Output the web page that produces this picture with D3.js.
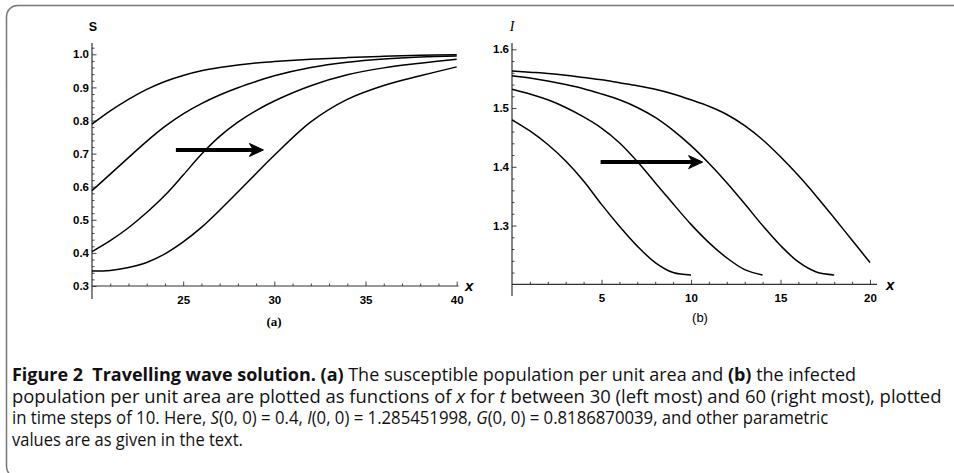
<!DOCTYPE html>
<html><head><meta charset="utf-8">
<script src="https://cdn.jsdelivr.net/npm/d3@7"></script>
<style>
html,body{margin:0;padding:0;background:#fff;}
svg{display:block;}
</style></head>
<body>
<svg id="fig" width="954" height="473"></svg>
<script>
// ---------- data ----------
// Panel (a): S versus x, t = 30, 40, 50, 60
const sX = [20,21,22,23,24,25,26,27,28,29,30,32,34,36,38,40];
const sT30 = [0.789,0.829,0.864,0.894,0.918,0.936,0.950,0.960,0.968,0.974,0.978,0.985,0.990,0.994,0.997,0.999];
const sT40 = [0.588,0.638,0.688,0.737,0.782,0.820,0.851,0.877,0.899,0.918,0.935,0.960,0.976,0.986,0.992,0.995];
const sT50 = [0.404,0.437,0.476,0.522,0.574,0.635,0.698,0.752,0.795,0.830,0.859,0.905,0.938,0.959,0.973,0.985];
const sT60 = [0.345,0.347,0.356,0.371,0.397,0.433,0.477,0.529,0.584,0.640,0.695,0.796,0.864,0.906,0.935,0.962];
// Panel (b): I versus x
const iX = [0,1,2,3,4,5,6,7,8,9,10,11,12,13,14,15,16,17,18,19,20];
const iT30 = [1.480,1.461,1.438,1.410,1.376,1.336,1.299,1.265,1.237,1.220,1.216];
const iT40 = [1.532,1.524,1.514,1.501,1.485,1.466,1.441,1.409,1.373,1.337,1.302,1.271,1.245,1.225,1.216];
const iT50 = [1.555,1.551,1.546,1.540,1.533,1.524,1.514,1.501,1.484,1.462,1.436,1.406,1.373,1.337,1.300,1.266,1.238,1.221,1.216];
const iT60 = [1.563,1.561,1.559,1.556,1.552,1.548,1.543,1.538,1.532,1.524,1.514,1.503,1.489,1.470,1.446,1.417,1.385,1.350,1.313,1.275,1.237];
// Tick values
const sXMajor = [25,30,35,40];
const sYMajor = [0.3,0.4,0.5,0.6,0.7,0.8,0.9,1.0];
const iXMajor = [5,10,15,20];
const iYMajor = [1.3,1.4,1.5,1.6];
// Arrows: [x0, x1, y]
const arrowS = [24.6, 29.4, 0.711];
const arrowI = [4.95, 10.65, 1.408];
// Caption
const captionLines = [
  [["b","Figure 2  Travelling wave solution. (a)"],["n"," The susceptible population per unit area and "],["b","(b)"],["n"," the infected"]],
  [["n","population per unit area are plotted as functions of "],["i","x"],["n"," for "],["i","t"],["n"," between 30 (left most) and 60 (right most), plotted"]],
  [["n","in time steps of 10. Here, "],["i","S"],["n","(0, 0) = 0.4, "],["i","I"],["n","(0, 0) = 1.285451998, "],["i","G"],["n","(0, 0) = 0.8186870039, and other parametric"]],
  [["n","values are as given in the text."]]
];
const captionWidths = [845, 930, 817, 231];

// ---------- drawing ----------
const svg = d3.select("#fig");

svg.append("rect").attr("x",6.5).attr("y",5.5).attr("width",1000).attr("height",472)
  .attr("rx",11).attr("fill","none").attr("stroke","#777").attr("stroke-width",1.5);

function styleTicks(a){
  a.select(".domain").remove();
  a.selectAll(".tick line").attr("stroke","#444");
  a.selectAll(".tick text").attr("font-family","Liberation Sans, Arial, sans-serif")
    .attr("font-weight","bold").attr("font-size",11.5).attr("fill","#000");
}

function panel(opt){
  const g = svg.append("g");
  const x = d3.scaleLinear().domain(opt.xd).range(opt.xr);
  const y = d3.scaleLinear().domain(opt.yd).range(opt.yr);
  const x0 = opt.xr[0], yb = opt.yr[0];
  // minor ticks
  g.append("g").attr("transform",`translate(0,${yb})`)
    .call(d3.axisBottom(x).tickValues(opt.xMinor).tickSize(-2.5).tickFormat(""))
    .call(styleTicks);
  g.append("g").attr("transform",`translate(${x0},0)`)
    .call(d3.axisLeft(y).tickValues(opt.yMinor).tickSize(-2.5).tickFormat(""))
    .call(styleTicks);
  // major ticks
  g.append("g").attr("transform",`translate(0,${yb})`)
    .call(d3.axisBottom(x).tickValues(opt.xMajor).tickSize(-4.5).tickPadding(10).tickFormat(d3.format("d")))
    .call(styleTicks);
  g.append("g").attr("transform",`translate(${x0},0)`)
    .call(d3.axisLeft(y).tickValues(opt.yMajor).tickSize(-4.5).tickPadding(3).tickFormat(d3.format(".1f")))
    .call(styleTicks);
  // axis lines
  g.append("line").attr("x1",x0).attr("x2",opt.xEnd).attr("y1",yb).attr("y2",yb).attr("stroke","#333").attr("stroke-width",1.2);
  g.append("line").attr("x1",x0).attr("x2",x0).attr("y1",opt.yTop).attr("y2",opt.yBot).attr("stroke","#333").attr("stroke-width",1.2);
  // curves
  const line = d3.line().x(d=>x(d[0])).y(d=>y(d[1])).curve(d3.curveCatmullRom.alpha(0.5));
  opt.series.forEach(s=>{
    const pts = s.map((v,i)=>[opt.xs[i],v]);
    g.append("path").attr("d",line(pts)).attr("fill","none").attr("stroke","#000").attr("stroke-width",1.5);
  });
  // arrow
  const [a0,a1,ay] = opt.arrow;
  const ax0 = x(a0), ax1 = x(a1), py = y(ay);
  g.append("line").attr("x1",ax0).attr("x2",ax1-10).attr("y1",py).attr("y2",py).attr("stroke","#000").attr("stroke-width",4);
  g.append("path").attr("d",`M${ax1},${py} L${ax1-14},${py-6.5} L${ax1-10},${py} L${ax1-14},${py+6.5} Z`).attr("fill","#000").attr("stroke","#000").attr("stroke-width",1);
  // labels
  g.append("text").attr("x",opt.xLab[0]).attr("y",opt.xLab[1]).text("x")
    .attr("font-family","Liberation Sans, Arial, sans-serif").attr("font-style","italic").attr("font-weight","bold").attr("font-size",15);
  g.append("text").attr("x",opt.yLab[0]).attr("y",opt.yLab[1]).text(opt.yName)
    .attr("font-family",opt.yFont).attr("font-style",opt.yStyle).attr("font-weight",opt.yWeight).attr("font-size",opt.ySize).attr("text-anchor","middle");
  g.append("text").attr("x",opt.pLab[0]).attr("y",opt.pLab[1]).text(opt.pName)
    .attr("font-family",opt.pFont).attr("font-weight",opt.pWeight).attr("font-size",13).attr("text-anchor","middle");
}

panel({
  xd:[20,40], xr:[92,456.7], yd:[0.3,1.0], yr:[286,54.3],
  xEnd:458.5, yTop:43, yBot:299,
  xMajor:sXMajor, xMinor:d3.range(21,40,1).filter(v=>v%5),
  yMajor:sYMajor, yMinor:d3.range(0.32,1.03,0.02).filter(v=>Math.abs(v*10-Math.round(v*10))>0.01),
  xs:sX, series:[sT30,sT40,sT50,sT60], arrow:arrowS,
  xLab:[465,291], yLab:[93,31], yName:"S", yFont:"Liberation Sans, Arial, sans-serif", yStyle:"normal", yWeight:"bold", ySize:12.5,
  pLab:[274,326], pName:"(a)", pFont:"Liberation Serif, Times New Roman, serif", pWeight:"bold"
});
panel({
  xd:[0,20], xr:[512,870], yd:[1.2,1.6], yr:[284.3,49.3],
  xEnd:877, yTop:43, yBot:296,
  xMajor:iXMajor, xMinor:d3.range(1,20,1).filter(v=>v%5),
  yMajor:iYMajor, yMinor:d3.range(1.22,1.61,0.02).filter(v=>Math.abs(v*10-Math.round(v*10))>0.01),
  xs:iX, series:[iT30,iT40,iT50,iT60], arrow:arrowI,
  xLab:[886,290], yLab:[512,31], yName:"I", yFont:"Liberation Serif, Times New Roman, serif", yStyle:"italic", yWeight:"normal", ySize:14,
  pLab:[700,322], pName:"(b)", pFont:"Liberation Sans, Arial, sans-serif", pWeight:"normal"
});

// caption
const baselines = [381, 403, 424, 446];
captionLines.forEach((ln,i)=>{
  const t = svg.append("text").attr("x",0).attr("y",0)
    .attr("font-family","Open Sans, Noto Sans, sans-serif").attr("font-size",17.5).attr("fill","#111");
  ln.forEach(([k,s])=>{
    const ts = t.append("tspan").text(s).style("white-space","pre");
    if(k==="b") ts.attr("font-weight","bold");
    if(k==="i") ts.attr("font-style","italic");
  });
  const w = t.node().getComputedTextLength();
  const sx = captionWidths[i]/w;
  t.attr("transform",`translate(12,${baselines[i]}) scale(${sx},1)`);
});
</script>
</body></html>
